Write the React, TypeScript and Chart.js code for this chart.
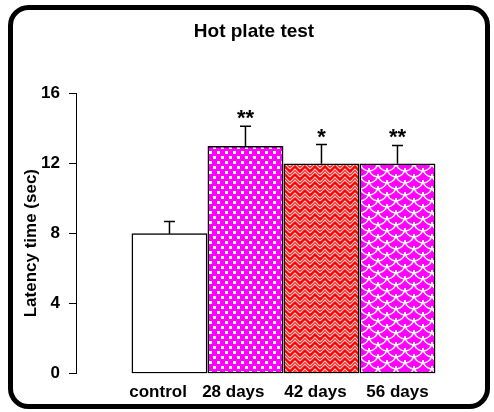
import { useEffect, useRef } from "react";
import { Chart, registerables } from "chart.js";

Chart.register(...registerables);

const categories = ["control", "28 days", "42 days", "56 days"];
const means = [8, 13, 12, 12];
const sem = [0.7, 1.15, 1.1, 1.05];
const stars = ["", "**", "*", "**"];
const yTicks = [0, 4, 8, 12, 16];

const FONT = "'Liberation Sans', Arial, Helvetica, sans-serif";
// small horizontal nudges of the category labels (in category widths), as in the original
const labelNudge = [-0.15, -0.16, -0.08, 0];

function makeTile(w: number, h: number, draw: (ctx: CanvasRenderingContext2D) => void) {
  const c = document.createElement("canvas");
  c.width = w;
  c.height = h;
  const ctx = c.getContext("2d")!;
  draw(ctx);
  return c;
}

function makePatterns(ctx: CanvasRenderingContext2D) {
  const dots = makeTile(8, 10, (g) => {
    g.fillStyle = "#ff00ff";
    g.fillRect(0, 0, 8, 10);
    g.fillStyle = "#ffffff";
    g.fillRect(1, 1, 3, 3);
    g.fillRect(5, 6, 3, 3);
  });
  const zig = makeTile(10, 8, (g) => {
    g.fillStyle = "#ff0000";
    g.fillRect(0, 0, 10, 8);
    g.strokeStyle = "rgba(255,215,215,0.95)";
    g.lineWidth = 1.2;
    for (const dy of [-8, 0, 8]) {
      for (const off of [0, 3]) {
        g.beginPath();
        g.moveTo(0, 6 + dy + off);
        g.lineTo(5, 1 + dy + off);
        g.lineTo(10, 6 + dy + off);
        g.stroke();
      }
    }
  });
  const scales = makeTile(18, 12, (g) => {
    g.fillStyle = "#ff00ff";
    g.fillRect(0, 0, 18, 12);
    g.strokeStyle = "#ffffff";
    g.lineWidth = 1.4;
    const rows = [-6, 0, 6, 12, 18];
    rows.forEach((cy, r) => {
      const xs = r % 2 === 0 ? [-9, 9, 27] : [0, 18];
      xs.forEach((cx) => {
        g.beginPath();
        g.arc(cx, cy, 9, 0, Math.PI);
        g.stroke();
      });
    });
  });
  return [
    "#ffffff",
    ctx.createPattern(dots, "repeat")!,
    ctx.createPattern(zig, "repeat")!,
    ctx.createPattern(scales, "repeat")!,
  ];
}

const framePlugin = {
  id: "frame",
  beforeDraw(chart: any) {
    const ctx = chart.ctx as CanvasRenderingContext2D;
    ctx.save();
    ctx.fillStyle = "#ffffff";
    ctx.fillRect(0, 0, chart.width, chart.height);
    const l = 10.5, t = 7.5, r = 487.5, b = 406.5, rad = 18;
    ctx.beginPath();
    ctx.moveTo(l + rad, t);
    ctx.lineTo(r - rad, t);
    ctx.arcTo(r, t, r, t + rad, rad);
    ctx.lineTo(r, b - rad);
    ctx.arcTo(r, b, r - rad, b, rad);
    ctx.lineTo(l + rad, b);
    ctx.arcTo(l, b, l, b - rad, rad);
    ctx.lineTo(l, t + rad);
    ctx.arcTo(l, t, l + rad, t, rad);
    ctx.closePath();
    ctx.lineWidth = 5;
    ctx.strokeStyle = "#000000";
    ctx.stroke();
    ctx.restore();
  },
};

const errorPlugin = {
  id: "errbars",
  afterDatasetsDraw(chart: any) {
    const ctx = chart.ctx as CanvasRenderingContext2D;
    const yScale = chart.scales.y;
    const meta = chart.getDatasetMeta(0);
    ctx.save();
    ctx.strokeStyle = "#000";
    ctx.lineWidth = 1.5;
    meta.data.forEach((el: any, i: number) => {
      const x = el.x;
      const yTop = el.y;
      const capY = yScale.getPixelForValue(means[i] + sem[i]);
      ctx.beginPath();
      ctx.moveTo(x, yTop);
      ctx.lineTo(x, capY);
      ctx.moveTo(x - 5.5, capY);
      ctx.lineTo(x + 5.5, capY);
      ctx.stroke();
      if (stars[i]) {
        ctx.fillStyle = "#000";
        ctx.font = `bold 22px ${FONT}`;
        ctx.textAlign = "center";
        ctx.textBaseline = "alphabetic";
        ctx.fillText(stars[i], x, capY - 1);
      }
    });
    ctx.restore();
  },
};

export default function App() {
  const ref = useRef<HTMLCanvasElement>(null);
  useEffect(() => {
    const canvas = ref.current!;
    const ctx = canvas.getContext("2d")!;
    const fills = makePatterns(ctx);
    const tickFont = { family: FONT, size: 17, weight: "bold" as const };
    const chart = new Chart(canvas, {
      type: "bar",
      data: {
        datasets: [
          {
            data: means.map((y, i) => ({ x: i, y })),
            backgroundColor: fills as any,
            borderColor: "#000000",
            borderWidth: 1.5,
            borderSkipped: false,
            barPercentage: 1,
            categoryPercentage: 1,
          },
        ],
      },
      options: {
        animation: false,
        responsive: false,
        events: [],
        layout: { padding: { left: 14, right: 0, top: 0, bottom: 0 } },
        plugins: {
          legend: { display: false },
          tooltip: { enabled: false },
          title: {
            display: true,
            text: "Hot plate test",
            color: "#000000",
            font: { family: FONT, size: 19, weight: "bold" },
            padding: { top: 20, bottom: 51 },
          },
        },
        scales: {
          x: {
            type: "linear",
            offset: false,
            min: -1.23,
            max: 4.27,
            grid: { display: false, drawTicks: false, offset: false },
            border: { display: false },
            afterBuildTicks: (s: any) => {
              s.ticks = categories.map((_, i) => ({ value: i + labelNudge[i] }));
            },
            ticks: {
              callback: (_v: any, index: number) => categories[index] ?? "",
              color: "#000000",
              font: tickFont,
              padding: 9,
              autoSkip: false,
              maxRotation: 0,
            },
          },
          y: {
            min: 0,
            max: 16,
            afterBuildTicks: (s: any) => {
              s.ticks = yTicks.map((v) => ({ value: v }));
            },
            afterFit: (s: any) => {
              s.width = 62;
            },
            grid: { drawOnChartArea: false, drawTicks: true, tickLength: 7, color: "#000000", lineWidth: 1 },
            border: { display: true, color: "#000000", width: 1 },
            ticks: { color: "#000000", font: tickFont, padding: 9 },
            title: {
              display: true,
              text: "Latency time (sec)    ",
              color: "#000000",
              font: tickFont,
              padding: { top: 7, bottom: 0 },
            },
          },
        },
      },
      plugins: [framePlugin, errorPlugin],
    });
    return () => chart.destroy();
  }, []);
  return (
    <div style={{ position: "absolute", left: 0, top: 0, width: 494, height: 412 }}>
      <canvas ref={ref} width={494} height={412} style={{ display: "block" }} />
    </div>
  );
}
